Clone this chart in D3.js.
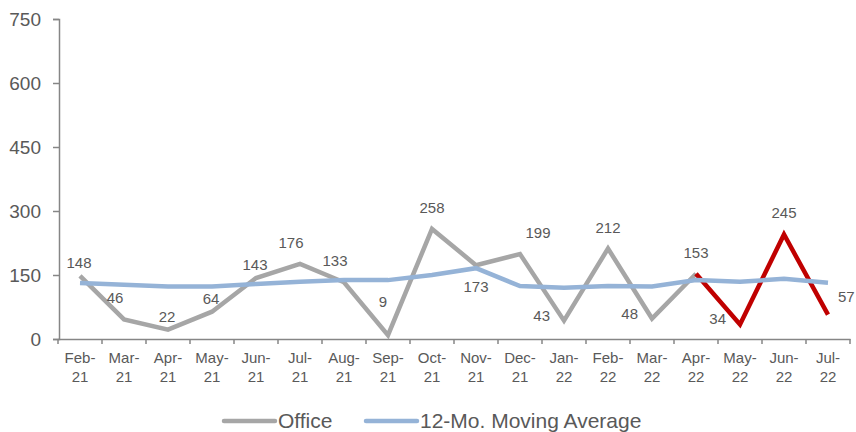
<!DOCTYPE html>
<html>
<head>
<meta charset="utf-8">
<script src="https://cdn.jsdelivr.net/npm/d3@7"></script>
<style>
  body { margin: 0; background: #fff; }
  text { font-family: "Liberation Sans", Arial, sans-serif; fill: #595959; }
</style>
</head>
<body>
<svg id="chart"></svg>
<script>
// Data
const months = ["Feb-21", "Mar-21", "Apr-21", "May-21", "Jun-21", "Jul-21", "Aug-21", "Sep-21", "Oct-21",
    "Nov-21", "Dec-21", "Jan-22", "Feb-22", "Mar-22", "Apr-22", "May-22", "Jun-22", "Jul-22"];
const office = [148, 46, 22, 64, 143, 176, 133, 9, 258, 173, 199, 43, 212, 48, 153, 34, 245, 57];
const movingAvg = [131, 127, 123, 123, 129, 134, 138, 138, 150, 166, 124, 120, 124, 123, 138, 134, 141, 132];
const labelPos = ["near", "aboveLeft", "near", "near", "near", "aboveLeft", "aboveLeft", "high", "above",
    "below", "aboveRight", "left", "above", "left", "above", "left", "above", "right"];
const yTicks = [0, 150, 300, 450, 600, 750];
const highlightFrom = 14; // Apr-22 onward drawn in red

const width = 856;
const height = 432;
const margin = { top: 19, right: 6, bottom: 93, left: 58 };

const svg = d3.select("#chart")
    .attr("width", width)
    .attr("height", height);

const x = d3.scaleBand()
    .domain(months)
    .range([margin.left, width - margin.right]);

const y = d3.scaleLinear()
    .domain([0, 750])
    .range([height - margin.bottom, margin.top]);

const cx = d => x(d) + x.bandwidth() / 2;

// Y axis
const yAxis = svg.append("g")
    .attr("transform", `translate(${margin.left + 1},0)`)
    .call(d3.axisLeft(y).tickValues(yTicks).tickSize(6).tickPadding(12));
yAxis.select(".domain").attr("stroke", "#868686").attr("stroke-width", 1.5);
yAxis.selectAll(".tick line").attr("stroke", "#868686").attr("stroke-width", 1.5);
yAxis.selectAll(".tick text")
    .attr("font-size", 19)
    .attr("fill", "#595959")
    .style("font-family", "Liberation Sans, Arial, sans-serif");

// X axis
const xAxis = svg.append("g")
    .attr("transform", `translate(0,${y(0)})`)
    .call(d3.axisBottom(x).tickSize(0).tickFormat(""));
xAxis.select(".domain").attr("stroke", "#868686").attr("stroke-width", 1.5);

const boundaries = months.map(m => x(m)).concat([x(months[months.length - 1]) + x.bandwidth()]);
svg.append("g").selectAll("line")
    .data(boundaries)
    .join("line")
    .attr("x1", d => d).attr("x2", d => d)
    .attr("y1", y(0)).attr("y2", y(0) + 5)
    .attr("stroke", "#868686")
    .attr("stroke-width", 1.5);

const xLabels = svg.append("g").selectAll("text")
    .data(months)
    .join("text")
    .attr("text-anchor", "middle")
    .attr("font-size", 15);
xLabels.append("tspan")
    .attr("x", d => cx(d))
    .attr("y", y(0) + 24)
    .text(d => d.split("-")[0] + "-");
xLabels.append("tspan")
    .attr("x", d => cx(d))
    .attr("y", y(0) + 43)
    .text(d => d.split("-")[1]);

// Lines
const line = d3.line()
    .x(d => cx(d.m))
    .y(d => y(d.v));

const officePts = months.map((m, i) => ({ m, v: office[i] }));
const avgPts = months.map((m, i) => ({ m, v: movingAvg[i] }));

svg.append("path")
    .datum(officePts.slice(0, highlightFrom + 1))
    .attr("fill", "none")
    .attr("stroke", "#a6a6a6")
    .attr("stroke-width", 4.5)
    .attr("d", line);

svg.append("path")
    .datum(officePts.slice(highlightFrom))
    .attr("fill", "none")
    .attr("stroke", "#c00000")
    .attr("stroke-width", 4.5)
    .attr("d", line);

svg.append("path")
    .datum(avgPts)
    .attr("fill", "none")
    .attr("stroke", "#95b3d7")
    .attr("stroke-width", 4.5)
    .attr("d", line);

// Data labels
const offsets = {
    near: [-1, -8, "middle"],
    above: [0, -16, "middle"],
    aboveLeft: [-9, -16, "middle"],
    aboveRight: [18, -16, "middle"],
    high: [-5, -28, "middle"],
    below: [0, 27, "middle"],
    left: [-14, 0, "end"],
    right: [10, -13, "start"]
};

svg.append("g").selectAll("text")
    .data(officePts)
    .join("text")
    .attr("x", (d, i) => cx(d.m) + offsets[labelPos[i]][0])
    .attr("y", (d, i) => y(d.v) + offsets[labelPos[i]][1])
    .attr("text-anchor", (d, i) => offsets[labelPos[i]][2])
    .attr("font-size", 15)
    .text(d => d.v);

// Legend
const legendItems = [
    { name: "Office", color: "#a6a6a6", x: 224 },
    { name: "12-Mo. Moving Average", color: "#95b3d7", x: 366 }
];
const legend = svg.append("g").selectAll("g")
    .data(legendItems)
    .join("g")
    .attr("transform", d => `translate(${d.x},421)`);
legend.append("line")
    .attr("x1", 0).attr("x2", 51)
    .attr("stroke", d => d.color)
    .attr("stroke-width", 4.5)
    .attr("stroke-linecap", "round");
legend.append("text")
    .attr("x", 54)
    .attr("y", 7)
    .attr("font-size", 21)
    .text(d => d.name);
</script>
</body>
</html>
